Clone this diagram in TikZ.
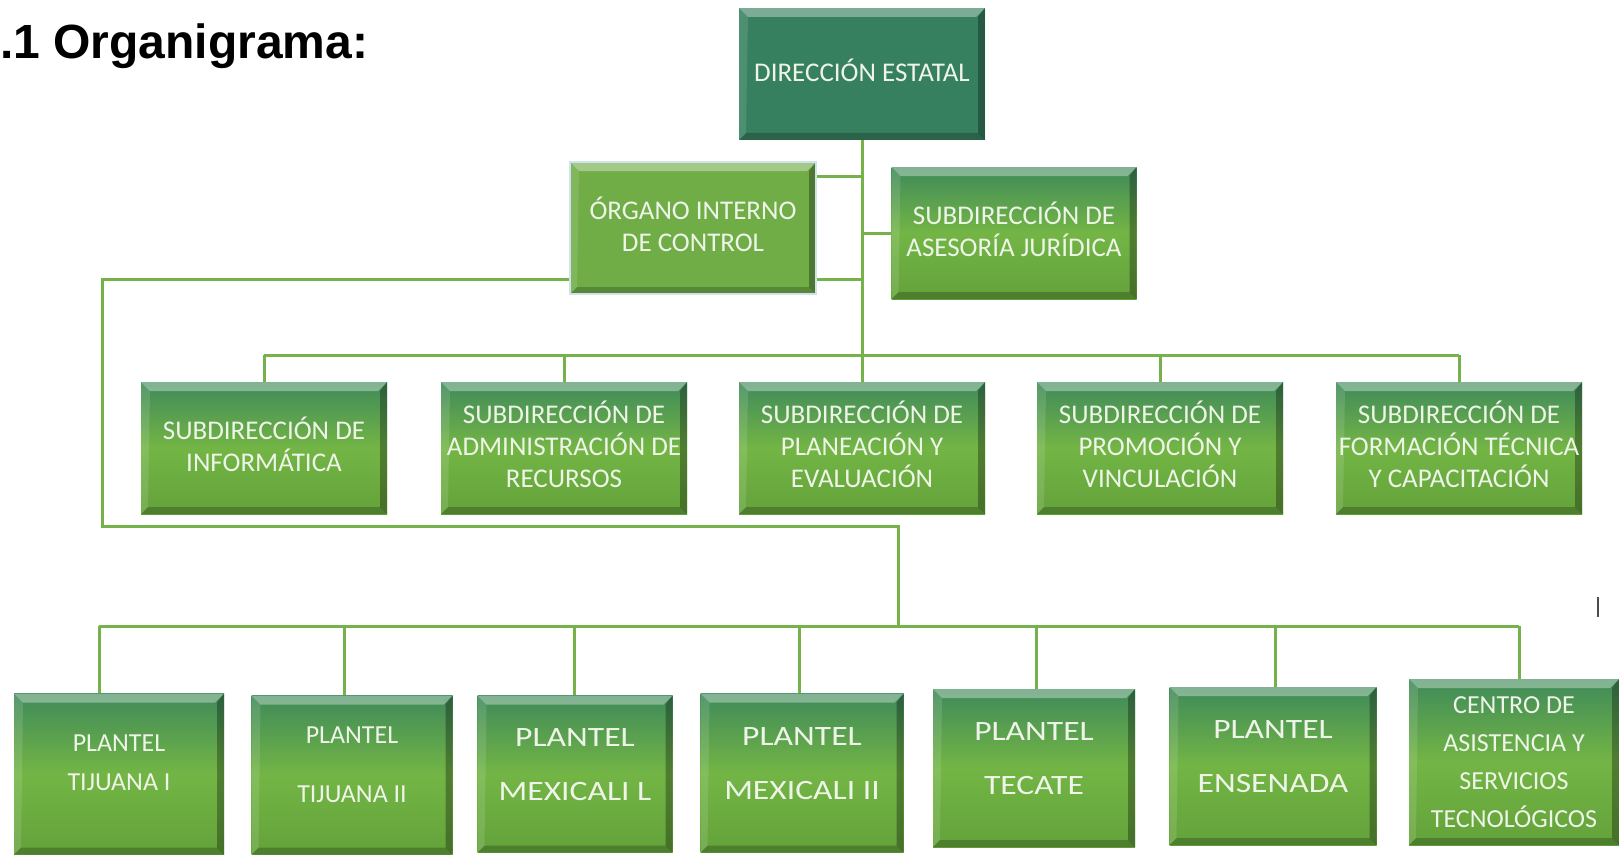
\documentclass[tikz,border=0pt]{standalone}
\usepackage{fontspec}
\usepackage{xcolor}
\setmainfont{Carlito}
\newfontfamily\titelfont{Liberation Sans}
\newfontfamily\weitfont[FakeStretch=1.2]{Carlito}
\definecolor{org-teal}{HTML}{36805F}
\definecolor{org-gruen}{HTML}{71AD47}
\definecolor{org-oben}{HTML}{3F8A5A}
\definecolor{org-mitte}{HTML}{73B545}
\definecolor{org-unten}{HTML}{63A23A}
\definecolor{org-linie}{HTML}{76B24B}
\definecolor{org-text}{HTML}{EEF5E8}
\definecolor{org-rand}{HTML}{CFE3EC}

\begin{document}
\begin{tikzpicture}[x=1pt, y=-1pt,
    kante/.style={path picture={
        \coordinate (nw) at (path picture bounding box.north west);
        \coordinate (ne) at (path picture bounding box.north east);
        \coordinate (sw) at (path picture bounding box.south west);
        \coordinate (se) at (path picture bounding box.south east);
        \fill[white, opacity=.35] (nw) -- (ne) -- ([xshift=-9pt,yshift=-9pt]ne) -- ([xshift=9pt,yshift=-9pt]nw) -- cycle;
        \fill[black, opacity=.3] (ne) -- (se) -- ([xshift=-7pt,yshift=7pt]se) -- ([xshift=-7pt,yshift=-9pt]ne) -- cycle;
        \fill[black, opacity=.22] (sw) -- (se) -- ([xshift=-7pt,yshift=7pt]se) -- ([xshift=7pt,yshift=7pt]sw) -- cycle;
        \fill[white, opacity=.12] (nw) -- (sw) -- ([xshift=7pt,yshift=7pt]sw) -- ([xshift=9pt,yshift=-9pt]nw) -- cycle;
    }},
    box/.style={minimum width=246pt, minimum height=132pt, inner sep=0pt, align=center,
        text=org-text, font=\fontsize{27}{32}\selectfont, text depth=7pt, kante},
    verlauf/.style={box, top color=org-oben, bottom color=org-unten, middle color=org-mitte},
    eng/.style={font=\fontsize{26}{39}\selectfont, text depth=22pt},
    lang/.style={font=\fontsize{26}{59}\selectfont, text depth=20pt},
    weit/.style={font=\weitfont\fontsize{28}{54}\selectfont, text depth=18pt},
    centro/.style={font=\fontsize{26}{38}\selectfont, text depth=-6pt},
    linie/.style={draw=org-linie, line width=3pt}]

    % Hintergrund und Rahmen
    \fill[white] (0,0) rectangle (1619,856);
    \useasboundingbox (0,0) rectangle (1619,856);

    % Titel
    \node[anchor=base west, inner sep=0pt, font=\titelfont\bfseries\fontsize{48}{52}\selectfont] (titel) at (0,59) {.1 Organigrama:};

    % Oberste Ebene
    \node[box, fill=org-teal] (dir) at (862,74) {DIRECCIÓN ESTATAL};
    \node[box, fill=org-gruen, draw=org-rand, line width=2pt] (oic) at (693,228) {ÓRGANO INTERNO\\DE CONTROL};
    \node[verlauf, minimum width=245pt] (juridica) at (1014,233) {SUBDIRECCIÓN DE\\ASESORÍA JURÍDICA};

    % Subdirecciones
    \foreach \n/\x/\txt in {1/264/{SUBDIRECCIÓN DE\\INFORMÁTICA},
                            2/564/{SUBDIRECCIÓN DE\\ADMINISTRACIÓN DE\\RECURSOS},
                            3/862/{SUBDIRECCIÓN DE\\PLANEACIÓN Y\\EVALUACIÓN},
                            4/1160/{SUBDIRECCIÓN DE\\PROMOCIÓN Y\\VINCULACIÓN},
                            5/1459/{SUBDIRECCIÓN DE\\FORMACIÓN TÉCNICA\\Y CAPACITACIÓN}} {
        \node[verlauf] (sub-\n) at (\x,448) {\txt};
    }

    % Planteles
    \foreach \n/\x/\y/\w/\h/\art/\txt in {1/119/774/210/161/eng/{PLANTEL\\TIJUANA I},
                                        2/352/775/201/159/lang/{PLANTEL\\TIJUANA II},
                                        3/575/774/195/157/weit/{PLANTEL\\MEXICALI L},
                                        4/802/773/203/159/weit/{PLANTEL\\MEXICALI II},
                                        5/1034/768/202/158/weit/{PLANTEL\\TECATE},
                                        6/1273/766/207/158/weit/{PLANTEL\\ENSENADA},
                                        7/1514/762/210/166/centro/{CENTRO DE\\ASISTENCIA Y\\SERVICIOS\\TECNOLÓGICOS}} {
        \node[verlauf, minimum width=\w pt, minimum height=\h pt, \art] (plantel-\n) at (\x,\y) {\txt};
    }

    % Knickpunkte der Linien
    \coordinate (bus-2) at (862,355);
    \coordinate (knick) at (102,526);
    \coordinate (bus-3) at (898,626);
    \foreach \n/\x in {1/99, 2/344, 3/574, 4/799, 5/1036, 6/1275, 7/1519}
        \coordinate (drop-\n) at (\x,626);

    % Verbindungen oben
    \draw[linie] (dir.south) -- (bus-2);
    \draw[linie] ([yshift=52pt]oic.east) -- ([yshift=52pt]oic.east -| dir.south);
    \draw[linie] ([yshift=-51pt]oic.east) -- ([yshift=-51pt]oic.east -| dir.south);
    \draw[linie] (juridica.west) -- (juridica.west -| dir.south);

    % Verbindungen Subdirecciones
    \draw[linie] (sub-1.north |- bus-2) -- (sub-5.north |- bus-2);
    \foreach \n in {1,...,5}
        \draw[linie] (sub-\n.north |- bus-2) -- (sub-\n.north);

    % Verbindungen Planteles
    \draw[linie] ([yshift=-51pt]oic.west) -| (knick) -| (bus-3);
    \draw[linie] (drop-1) -- (drop-7);
    \foreach \n in {1,...,7}
        \draw[linie] (drop-\n) -- (drop-\n |- plantel-\n.north);

    % Cursor rechts
    \draw[gray!60!black, line width=1.5pt] (1598,597) -- (1598,617);
\end{tikzpicture}
\end{document}
